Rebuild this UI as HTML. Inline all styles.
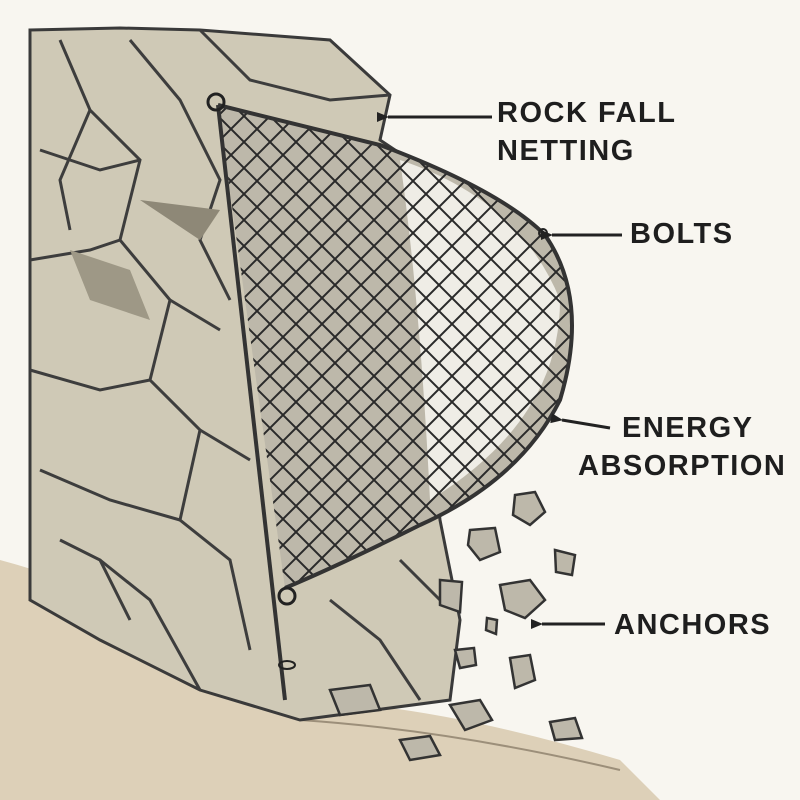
<!DOCTYPE html>
<html><head><meta charset="utf-8"><style>
body{margin:0;background:#f8f6f0;}
svg{display:block}
text{font-family:"Liberation Sans",sans-serif;font-weight:bold;fill:#1e1e1e;font-size:29px;letter-spacing:1.5px}
</style></head><body>
<svg width="800" height="800" viewBox="0 0 800 800">
<defs>
<clipPath id="net"><path d="M218,105 Q300,125 380,145 Q500,190 545,235 Q590,300 560,400 Q520,480 420,525 Q340,565 285,588 Z"/></clipPath>
<marker id="ah" markerUnits="userSpaceOnUse" markerWidth="14" markerHeight="12" refX="1" refY="6" orient="auto"><path d="M0,6 L12,1 L12,11 Z" fill="#222"/></marker>
</defs>
<rect width="800" height="800" fill="#f8f6f0"/>
<path d="M0,560 Q150,600 280,700 Q420,700 620,760 L660,800 L0,800 Z" fill="#ddd0b8"/>
<path d="M300,720 Q450,730 620,770" stroke="#9c8f7a" stroke-width="2" fill="none"/>
<path d="M30,30 L120,28 L200,30 L330,40 L390,95 L380,140 L440,180 L450,320 L430,420 L440,520 L460,620 L450,700 L300,720 L200,690 L100,640 L30,600 Z" fill="#cfc9b6" stroke="#3a3a3a" stroke-width="3"/>
<g stroke="#3d3d3d" stroke-width="3" fill="none">
<path d="M60,40 L90,110 L140,160 L120,240 L170,300 L150,380 L200,430 L180,520 L230,560 L250,650"/>
<path d="M40,150 L100,170 L140,160"/><path d="M30,260 L90,250 L120,240"/>
<path d="M30,370 L100,390 L150,380"/><path d="M40,470 L110,500 L180,520"/>
<path d="M130,40 L180,100 L220,180 L200,240 L230,300"/>
<path d="M200,30 L250,80 L330,100 L390,95"/>
<path d="M90,110 L60,180 L70,230"/><path d="M170,300 L220,330"/>
<path d="M200,430 L250,460"/><path d="M100,560 L150,600 L200,690"/>
<path d="M330,600 L380,640 L420,700"/><path d="M400,560 L440,600"/>
<path d="M60,540 L100,560 L130,620"/>
</g>
<path d="M70,250 L130,270 L150,320 L90,300 Z" fill="#9e9886"/>
<path d="M140,200 L220,210 L200,240 Z" fill="#8e8877"/>
<path d="M218,105 Q300,125 380,145 Q500,190 545,235 Q590,300 560,400 Q520,480 420,525 Q340,565 285,588 Z" fill="#bdb8aa"/>
<path d="M400,160 Q520,200 560,300 Q560,420 430,500 Q420,300 400,160 Z" fill="#efede6"/>
<g clip-path="url(#net)" stroke="#2a2a2a" stroke-width="2" id="mesh"></g>
<path d="M218,105 Q300,125 380,145 Q500,190 545,235 Q590,300 560,400 Q520,480 420,525 Q340,565 285,588" fill="none" stroke="#333" stroke-width="4"/>
<line x1="218" y1="105" x2="285" y2="700" stroke="#333" stroke-width="4"/>
<circle cx="216" cy="102" r="8" fill="none" stroke="#222" stroke-width="3"/>
<circle cx="287" cy="596" r="8" fill="none" stroke="#222" stroke-width="3"/>
<ellipse cx="287" cy="665" rx="8" ry="4" fill="none" stroke="#222" stroke-width="2"/>
<circle cx="543" cy="233" r="4" fill="none" stroke="#222" stroke-width="2"/>
<g fill="#bdb8aa" stroke="#333" stroke-width="2.5">
<path d="M515,495 L535,492 L545,512 L530,525 L513,515 Z"/>
<path d="M470,530 L495,528 L500,552 L480,560 L468,545 Z"/>
<path d="M555,550 L575,555 L572,575 L556,572 Z"/>
<path d="M500,585 L530,580 L545,600 L525,618 L505,610 Z"/>
<path d="M487,618 L497,620 L496,634 L486,630 Z"/>
<path d="M455,650 L474,648 L476,665 L460,668 Z"/>
<path d="M510,658 L530,655 L535,680 L515,688 Z"/>
<path d="M440,580 L462,582 L460,612 L440,605 Z"/>
<path d="M450,705 L480,700 L492,720 L465,730 Z"/>
<path d="M400,740 L430,736 L440,755 L410,760 Z"/>
<path d="M550,722 L575,718 L582,738 L555,740 Z"/>
<path d="M330,690 L370,685 L380,710 L340,715 Z"/>
</g>
<g stroke="#222" stroke-width="3">
<line x1="492" y1="117" x2="388" y2="117" marker-end="url(#ah)"/>
<line x1="622" y1="235" x2="552" y2="235" marker-end="url(#ah)"/>
<line x1="610" y1="428" x2="562" y2="420" marker-end="url(#ah)"/>
<line x1="605" y1="624" x2="542" y2="624" marker-end="url(#ah)"/>
</g>
<text x="497" y="122">ROCK FALL</text>
<text x="497" y="160">NETTING</text>
<text x="630" y="243">BOLTS</text>
<text x="622" y="437">ENERGY</text>
<text x="578" y="475">ABSORPTION</text>
<text x="614" y="634">ANCHORS</text>
</svg>
<script>
var g=document.getElementById('mesh'),ns='http://www.w3.org/2000/svg';
for(var k=-600;k<900;k+=26){
 var a=document.createElementNS(ns,'line');a.setAttribute('x1',k);a.setAttribute('y1',0);a.setAttribute('x2',k+700);a.setAttribute('y2',700);g.appendChild(a);
 var b=document.createElementNS(ns,'line');b.setAttribute('x1',k);b.setAttribute('y1',700);b.setAttribute('x2',k+700);b.setAttribute('y2',0);g.appendChild(b);
}
</script>
</body></html>
